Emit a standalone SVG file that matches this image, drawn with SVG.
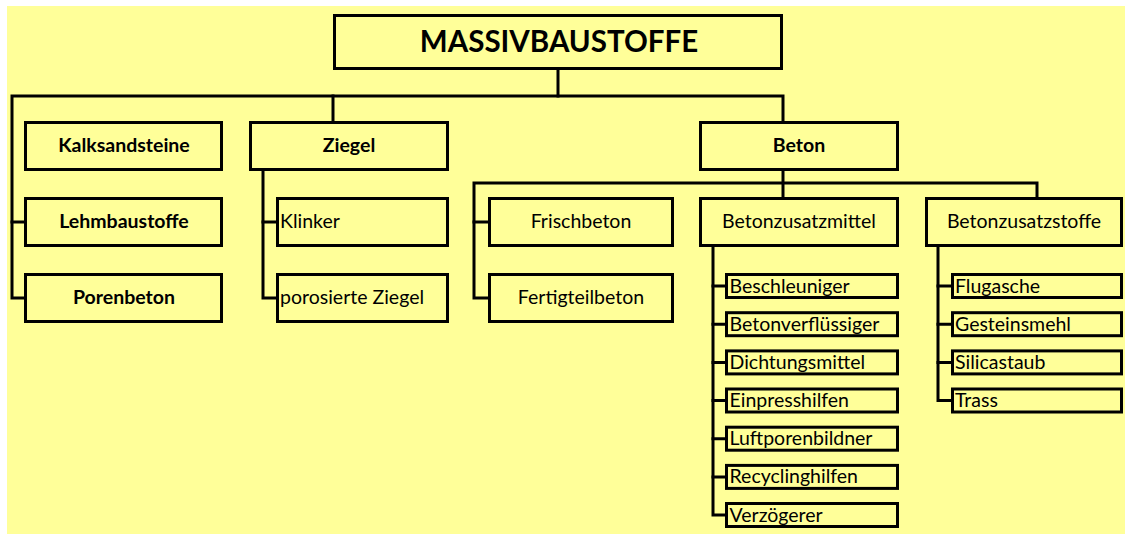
<svg xmlns="http://www.w3.org/2000/svg" width="1125" height="534" viewBox="0 0 1125 534">
<style>
.bx{fill:#FFFF99;stroke:#000;stroke-width:3}
.cn{fill:none;stroke:#000;stroke-width:3;stroke-linejoin:miter;stroke-linecap:square}
text{font-family:Lato,"Liberation Sans",sans-serif;font-size:19.5px;fill:#000}
.b{font-weight:bold}
.c{text-anchor:middle}
.t{font-size:29.5px;font-weight:bold;text-anchor:middle}
</style>
<rect x="7" y="6" width="1118" height="528" fill="#FFFF99"/>
<g id="connectors">
<path class="cn" d="M558,70 V96"/>
<path class="cn" d="M24,298 H12 V96 H783 V121"/>
<path class="cn" d="M12,222 H24"/>
<path class="cn" d="M333,96 V121"/>
<path class="cn" d="M263,171 V298 H276"/>
<path class="cn" d="M263,222 H276"/>
<path class="cn" d="M783,171 V197"/>
<path class="cn" d="M488,298 H474 V183 H1037 V197"/>
<path class="cn" d="M474,222 H488"/>
<path class="cn" d="M713,247 V515 H725"/>
<path class="cn" d="M713,286 H725 M713,324.2 H725 M713,362.4 H725 M713,400.5 H725 M713,438.7 H725 M713,476.9 H725"/>
<path class="cn" d="M938,247 V400.5 H951"/>
<path class="cn" d="M938,286 H951 M938,324.2 H951 M938,362.4 H951"/>
</g>
<g id="massivbaustoffe"><rect class="bx" x="334.5" y="15.5" width="447" height="53"/><text class="t" x="559" y="52">MASSIVBAUSTOFFE</text></g>
<g id="kalksandsteine"><rect class="bx" x="25.5" y="122.5" width="196" height="47"/><text class="b c" x="124" y="152">Kalksandsteine</text></g>
<g id="ziegel"><rect class="bx" x="250.5" y="122.5" width="197" height="47"/><text class="b c" x="349" y="152">Ziegel</text></g>
<g id="beton"><rect class="bx" x="700.5" y="122.5" width="197" height="47"/><text class="b c" x="799" y="152">Beton</text></g>
<g id="lehmbaustoffe"><rect class="bx" x="25.5" y="198.5" width="196" height="47"/><text class="b c" x="124" y="228">Lehmbaustoffe</text></g>
<g id="porenbeton"><rect class="bx" x="25.5" y="274.5" width="196" height="47"/><text class="b c" x="124" y="304">Porenbeton</text></g>
<g id="klinker"><rect class="bx" x="277.5" y="198.5" width="170" height="47"/><text x="280" y="228">Klinker</text></g>
<g id="porosierte-ziegel"><rect class="bx" x="277.5" y="274.5" width="170" height="47"/><text x="280" y="304">porosierte Ziegel</text></g>
<g id="frischbeton"><rect class="bx" x="489.5" y="198.5" width="183" height="47"/><text class="c" x="581" y="228">Frischbeton</text></g>
<g id="fertigteilbeton"><rect class="bx" x="489.5" y="274.5" width="183" height="47"/><text class="c" x="581" y="304">Fertigteilbeton</text></g>
<g id="betonzusatzmittel"><rect class="bx" x="700.5" y="198.5" width="197" height="47"/><text class="c" x="799" y="228">Betonzusatzmittel</text></g>
<g id="betonzusatzstoffe"><rect class="bx" x="926.5" y="198.5" width="195" height="47"/><text class="c" x="1024" y="228">Betonzusatzstoffe</text></g>
<g id="beschleuniger"><rect class="bx" x="726.5" y="274.5" width="171" height="23"/><text x="729.5" y="292.5">Beschleuniger</text></g>
<g id="betonverfluessiger"><rect class="bx" x="726.5" y="312.7" width="171" height="23"/><text x="729.5" y="330.7">Betonverflüssiger</text></g>
<g id="dichtungsmittel"><rect class="bx" x="726.5" y="350.9" width="171" height="23"/><text x="729.5" y="368.9">Dichtungsmittel</text></g>
<g id="einpresshilfen"><rect class="bx" x="726.5" y="389" width="171" height="23"/><text x="729.5" y="407">Einpresshilfen</text></g>
<g id="luftporenbildner"><rect class="bx" x="726.5" y="427.2" width="171" height="23"/><text x="729.5" y="445.2">Luftporenbildner</text></g>
<g id="recyclinghilfen"><rect class="bx" x="726.5" y="465.4" width="171" height="23"/><text x="729.5" y="483.4">Recyclinghilfen</text></g>
<g id="verzoegerer"><rect class="bx" x="726.5" y="503.5" width="171" height="23"/><text x="729.5" y="521.5">Verzögerer</text></g>
<g id="flugasche"><rect class="bx" x="952.5" y="274.5" width="169" height="23"/><text x="955" y="292.5">Flugasche</text></g>
<g id="gesteinsmehl"><rect class="bx" x="952.5" y="312.7" width="169" height="23"/><text x="955" y="330.7">Gesteinsmehl</text></g>
<g id="silicastaub"><rect class="bx" x="952.5" y="350.9" width="169" height="23"/><text x="955" y="368.9">Silicastaub</text></g>
<g id="trass"><rect class="bx" x="952.5" y="389" width="169" height="23"/><text x="955" y="407">Trass</text></g>
</svg>
